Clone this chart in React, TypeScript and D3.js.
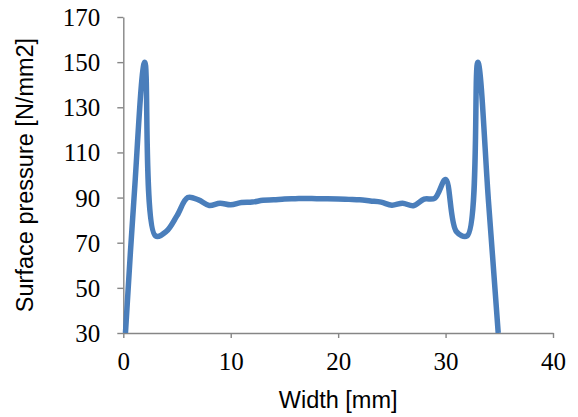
import React, { useEffect, useRef } from "react";
import * as d3 from "d3";

// width [mm] and surface pressure [N/mm2]
const widthMm = [0.2, 1, 2, 3, 4, 5, 6, 7, 8, 9, 10, 11, 12, 13, 14, 15, 16, 17, 18, 19, 20, 21, 22, 23, 24, 25, 26, 27, 28, 29, 30, 31, 32, 33, 34, 34.9];
const pressure = [30, 90, 150, 73, 75, 82, 90, 89, 86.5, 87.5, 86.8, 87.8, 88, 88.8, 89, 89.4, 89.5, 89.6, 89.5, 89.5, 89.4, 89.2, 89, 88.5, 88, 86.6, 87.5, 86.4, 89.3, 89.7, 98, 75, 73, 150, 88, 30];
const xTicks = [0, 10, 20, 30, 40];
const yTicks = [30, 50, 70, 90, 110, 130, 150, 170];

const W = 578;
const H = 417;
const left = 123.3;
const right = 553;
const top = 17;
const bottom = 333;

const App = () => {
  const svgRef = useRef<SVGSVGElement>(null);

  useEffect(() => {
    const svg = d3.select(svgRef.current);
    svg.selectAll("*").remove();

    const x = d3.scaleLinear().domain([0, 40]).range([left, right]);
    const y = d3.scaleLinear().domain([30, 170]).range([bottom, top]);
    const axisColor = "#868686";

    svg.append("defs").append("clipPath").attr("id", "plotClip")
      .append("rect")
      .attr("x", left - 10).attr("y", 0)
      .attr("width", right - left + 20).attr("height", bottom);

    const xAxis = svg.append("g")
      .attr("transform", `translate(0,${bottom})`)
      .call(d3.axisBottom(x).tickValues(xTicks).tickSizeInner(5).tickSizeOuter(0).tickPadding(14));
    const yAxis = svg.append("g")
      .attr("transform", `translate(${left},0)`)
      .call(d3.axisLeft(y).tickValues(yTicks).tickSizeInner(6).tickSizeOuter(0).tickPadding(17));

    [xAxis, yAxis].forEach((g) => {
      g.select(".domain").attr("stroke", axisColor).attr("stroke-width", 1.4);
      g.selectAll(".tick line").attr("stroke", axisColor).attr("stroke-width", 1.4);
      g.selectAll(".tick text")
        .attr("fill", "#000")
        .attr("font-family", "'Liberation Serif', 'Times New Roman', serif")
        .attr("font-size", 25);
    });
    yAxis.selectAll(".tick text").attr("dy", "0.34em");

    const pts = widthMm.map((w, i) => [w, pressure[i]] as [number, number]);
    const line = d3.line<[number, number]>()
      .x((d) => x(d[0]))
      .y((d) => y(d[1]))
      .curve(d3.curveCatmullRom.alpha(0.5));

    svg.append("path")
      .datum(pts)
      .attr("clip-path", "url(#plotClip)")
      .attr("d", line)
      .attr("fill", "none")
      .attr("stroke", "#4A7EBB")
      .attr("stroke-width", 5.5)
      .attr("stroke-linejoin", "round");

    svg.append("text")
      .attr("x", x(20))
      .attr("y", 408)
      .attr("text-anchor", "middle")
      .attr("font-family", "'Liberation Sans', Arial, sans-serif")
      .attr("font-size", 23.5)
      .text("Width [mm]");

    svg.append("text")
      .attr("transform", `translate(33,${(top + bottom) / 2}) rotate(-90)`)
      .attr("text-anchor", "middle")
      .attr("font-family", "'Liberation Sans', Arial, sans-serif")
      .attr("font-size", 23.5)
      .text("Surface pressure [N/mm2]");
  });

  return (
    <svg
      ref={svgRef}
      width={W}
      height={H}
      style={{ position: "absolute", left: 0, top: 0, background: "#fff" }}
    />
  );
};

export default App;
